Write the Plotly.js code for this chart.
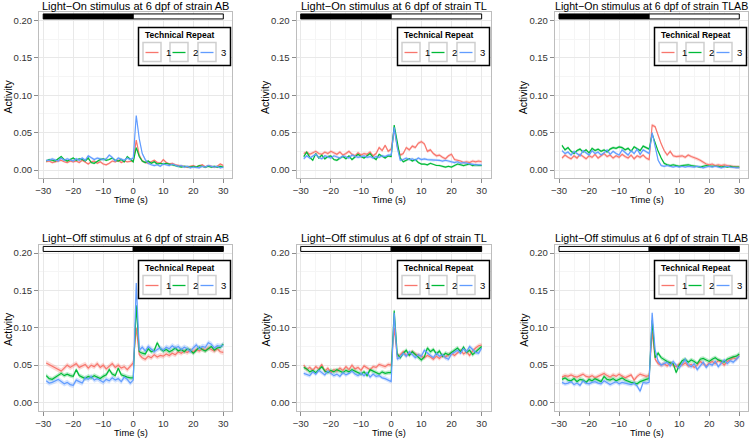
<!DOCTYPE html>
<html><head><meta charset="utf-8">
<script src="https://cdn.plot.ly/plotly-3.0.1.min.js"></script>
<style>html,body{margin:0;padding:0;background:#fff}#chart{width:750px;height:439px}</style>
</head><body><div id="chart"></div>
<script>
// ---------------- data ----------------
const time = [-29,-28,-27,-26,-25,-24,-23,-22,-21,-20,-19,-18,-17,-16,-15,-14,-13,-12,-11,-10,-9,-8,-7,-6,-5,-4,-3,-2,-1,0,1,2,3,4,5,6,7,8,9,10,11,12,13,14,15,16,17,18,19,20,21,22,23,24,25,26,27,28,29,30];
const repeatNames = ['1','2','3'];
const panelTitles = [
  'Light\u2212On stimulus at 6 dpf of strain AB',
  'Light\u2212On stimulus at 6 dpf of strain TL',
  'Light\u2212On stimulus at 6 dpf of strain TLAB',
  'Light\u2212Off stimulus at 6 dpf of strain AB',
  'Light\u2212Off stimulus at 6 dpf of strain TL',
  'Light\u2212Off stimulus at 6 dpf of strain TLAB'
];
// stimulus bar: dark part before 0 for Light-On, after 0 for Light-Off
const stimulusDarkBefore = [true, true, true, false, false, false];
const stimulusBar = {start: -30, switchAt: 0, end: 30, low: 0.2022, high: 0.2089};

// Light-On AB
const onAB1 = [0.011,0.012,0.010,0.011,0.012,0.013,0.011,0.010,0.012,0.011, 0.012,0.010,0.013,0.011,0.008,0.011,0.012,0.009,0.011,0.008, 0.007,0.009,0.012,0.011,0.013,0.010,0.012,0.011,0.012, 0.012, 0.040,0.020,0.012,0.010,0.009,0.011,0.013,0.010,0.009,0.014, 0.010,0.008,0.009,0.007,0.006,0.006,0.005,0.004,0.005,0.006, 0.004,0.005,0.007,0.004,0.006,0.005,0.004,0.005,0.008,0.006];
const onAB2 = [0.012,0.014,0.013,0.012,0.015,0.018,0.014,0.012,0.014,0.016, 0.013,0.015,0.014,0.012,0.016,0.010,0.009,0.012,0.014,0.015, 0.013,0.014,0.016,0.013,0.012,0.014,0.011,0.018,0.015, 0.011, 0.030,0.018,0.012,0.010,0.012,0.009,0.011,0.008,0.009,0.008, 0.009,0.008,0.007,0.006,0.005,0.004,0.005,0.004,0.004,0.005, 0.004,0.006,0.005,0.004,0.005,0.004,0.005,0.004,0.005,0.004];
const onAB3 = [0.013,0.013,0.015,0.014,0.012,0.016,0.013,0.015,0.014,0.012, 0.015,0.013,0.016,0.013,0.019,0.016,0.014,0.016,0.015,0.014, 0.015,0.020,0.017,0.012,0.016,0.014,0.013,0.016,0.014, 0.016, 0.073,0.042,0.022,0.014,0.009,0.007,0.006,0.007,0.005,0.008, 0.007,0.006,0.008,0.006,0.005,0.006,0.004,0.005,0.003,0.004, 0.004,0.003,0.005,0.004,0.006,0.005,0.004,0.005,0.003,0.004];
// Light-On TL
const onTL1 = [0.022,0.024,0.021,0.023,0.025,0.022,0.021,0.024,0.022,0.025, 0.023,0.021,0.024,0.020,0.022,0.025,0.021,0.019,0.023,0.020, 0.022,0.021,0.024,0.019,0.022,0.030,0.026,0.033,0.025, 0.028, 0.055,0.032,0.020,0.022,0.030,0.027,0.032,0.030,0.036,0.038, 0.035,0.025,0.027,0.022,0.019,0.020,0.017,0.015,0.019,0.021, 0.014,0.013,0.012,0.010,0.011,0.010,0.012,0.011,0.012,0.011];
const onTL2 = [0.018,0.024,0.017,0.013,0.022,0.016,0.020,0.015,0.018,0.019, 0.014,0.013,0.016,0.018,0.015,0.019,0.014,0.017,0.021,0.018, 0.016,0.019,0.022,0.017,0.014,0.021,0.018,0.016,0.019, 0.018, 0.060,0.038,0.016,0.011,0.013,0.015,0.012,0.014,0.010,0.008, 0.008,0.007,0.009,0.007,0.006,0.006,0.005,0.004,0.005,0.004, 0.006,0.008,0.007,0.006,0.007,0.008,0.006,0.007,0.006,0.006];
const onTL3 = [0.015,0.019,0.016,0.018,0.021,0.017,0.015,0.019,0.018,0.016, 0.019,0.017,0.016,0.019,0.018,0.016,0.020,0.018,0.017,0.018, 0.019,0.017,0.018,0.016,0.018,0.017,0.019,0.018,0.020, 0.020, 0.057,0.030,0.013,0.014,0.016,0.014,0.015,0.013,0.016,0.014, 0.015,0.014,0.014,0.013,0.014,0.013,0.012,0.013,0.012,0.011, 0.010,0.011,0.009,0.010,0.009,0.008,0.008,0.007,0.007,0.007];
// Light-On TLAB
const onTLAB1 = [0.016,0.020,0.017,0.015,0.019,0.016,0.021,0.018,0.015,0.019, 0.017,0.021,0.016,0.019,0.022,0.018,0.020,0.016,0.019,0.017, 0.021,0.018,0.016,0.020,0.015,0.019,0.017,0.020,0.016, 0.014, 0.060,0.058,0.046,0.035,0.026,0.020,0.025,0.019,0.018,0.018, 0.019,0.017,0.020,0.018,0.017,0.015,0.013,0.010,0.008,0.007, 0.008,0.006,0.007,0.006,0.007,0.006,0.005,0.005,0.004,0.004];
const onTLAB2 = [0.033,0.027,0.030,0.025,0.022,0.026,0.028,0.024,0.027,0.023, 0.029,0.026,0.028,0.025,0.027,0.024,0.028,0.030,0.029,0.031, 0.030,0.027,0.029,0.025,0.031,0.028,0.026,0.032,0.030, 0.028, 0.048,0.036,0.025,0.016,0.009,0.007,0.006,0.007,0.006,0.005, 0.006,0.007,0.007,0.006,0.005,0.005,0.004,0.005,0.006,0.005, 0.005,0.006,0.005,0.004,0.005,0.004,0.005,0.004,0.004,0.004];
const onTLAB3 = [0.026,0.022,0.024,0.020,0.025,0.022,0.019,0.026,0.023,0.020, 0.026,0.022,0.024,0.020,0.023,0.027,0.021,0.025,0.022,0.020, 0.027,0.023,0.020,0.026,0.022,0.028,0.021,0.027,0.024, 0.022, 0.050,0.030,0.013,0.006,0.005,0.006,0.005,0.004,0.005,0.004, 0.005,0.004,0.005,0.004,0.004,0.005,0.004,0.003,0.004,0.005, 0.004,0.005,0.004,0.003,0.004,0.005,0.004,0.003,0.003,0.003];
// Light-Off AB
const offAB1 = [0.053,0.051,0.048,0.046,0.044,0.042,0.046,0.050,0.047,0.049, 0.052,0.047,0.049,0.051,0.046,0.050,0.048,0.052,0.047,0.050, 0.045,0.049,0.052,0.047,0.050,0.046,0.048,0.044,0.049, 0.053, 0.100,0.064,0.060,0.058,0.062,0.060,0.064,0.061,0.063,0.062, 0.065,0.063,0.066,0.064,0.068,0.066,0.069,0.067,0.070,0.068, 0.071,0.069,0.072,0.070,0.073,0.071,0.069,0.072,0.068,0.067];
const offAB2 = [0.036,0.032,0.031,0.034,0.037,0.039,0.036,0.038,0.036,0.035, 0.044,0.036,0.034,0.032,0.035,0.033,0.036,0.034,0.032,0.035, 0.037,0.044,0.038,0.036,0.046,0.037,0.035,0.034,0.033, 0.033, 0.130,0.068,0.066,0.065,0.072,0.068,0.070,0.080,0.072,0.069, 0.071,0.068,0.070,0.073,0.069,0.071,0.068,0.072,0.070,0.066, 0.070,0.074,0.071,0.069,0.072,0.075,0.070,0.073,0.074,0.078];
const offAB3 = [0.029,0.026,0.027,0.029,0.031,0.028,0.025,0.027,0.024,0.023, 0.030,0.028,0.026,0.033,0.031,0.035,0.030,0.032,0.029,0.027, 0.031,0.029,0.033,0.030,0.032,0.028,0.034,0.031,0.026, 0.030, 0.160,0.070,0.074,0.069,0.075,0.072,0.068,0.071,0.073,0.070, 0.074,0.072,0.076,0.073,0.075,0.071,0.074,0.072,0.068,0.073, 0.077,0.072,0.075,0.074,0.080,0.078,0.073,0.076,0.075,0.077];
// Light-Off TL
const offTL1 = [0.050,0.044,0.047,0.043,0.048,0.045,0.051,0.042,0.046,0.040, 0.044,0.042,0.046,0.043,0.048,0.044,0.050,0.045,0.047,0.043, 0.049,0.046,0.044,0.048,0.047,0.051,0.049,0.048,0.051, 0.050, 0.100,0.062,0.064,0.068,0.063,0.066,0.068,0.065,0.064,0.062, 0.060,0.063,0.061,0.058,0.062,0.059,0.063,0.061,0.064,0.066, 0.063,0.067,0.070,0.065,0.068,0.063,0.069,0.073,0.076,0.077];
const offTL2 = [0.047,0.045,0.041,0.043,0.040,0.044,0.048,0.042,0.040,0.043, 0.041,0.044,0.042,0.040,0.043,0.041,0.044,0.042,0.040,0.038, 0.041,0.036,0.044,0.042,0.040,0.038,0.041,0.039,0.040, 0.040, 0.123,0.065,0.060,0.066,0.070,0.063,0.068,0.064,0.060,0.057, 0.061,0.073,0.068,0.071,0.065,0.069,0.062,0.066,0.064,0.067, 0.070,0.073,0.068,0.074,0.067,0.070,0.064,0.068,0.072,0.075];
const offTL3 = [0.039,0.037,0.036,0.041,0.038,0.043,0.040,0.037,0.042,0.039, 0.036,0.038,0.035,0.040,0.037,0.039,0.042,0.038,0.036,0.039, 0.036,0.040,0.034,0.038,0.035,0.036,0.033,0.032,0.030, 0.028, 0.120,0.058,0.061,0.066,0.062,0.068,0.064,0.060,0.064,0.062, 0.070,0.066,0.063,0.060,0.066,0.062,0.064,0.060,0.058,0.065, 0.068,0.070,0.066,0.072,0.068,0.075,0.071,0.067,0.066,0.073];
// Light-Off TLAB
const offTLAB1 = [0.034,0.036,0.035,0.037,0.035,0.034,0.036,0.038,0.035,0.034, 0.036,0.033,0.035,0.037,0.039,0.036,0.034,0.037,0.035,0.038, 0.036,0.033,0.035,0.037,0.030,0.035,0.038,0.036,0.035, 0.036, 0.095,0.058,0.052,0.050,0.052,0.049,0.053,0.050,0.048,0.052, 0.050,0.053,0.049,0.051,0.047,0.050,0.055,0.052,0.049,0.053, 0.055,0.052,0.056,0.054,0.050,0.055,0.058,0.060,0.058,0.063];
const offTLAB2 = [0.031,0.033,0.030,0.029,0.032,0.028,0.031,0.030,0.027,0.031, 0.029,0.032,0.030,0.028,0.035,0.031,0.030,0.032,0.029,0.031, 0.033,0.030,0.028,0.027,0.026,0.025,0.028,0.030,0.031, 0.032, 0.110,0.060,0.066,0.060,0.057,0.055,0.053,0.052,0.040,0.050, 0.056,0.058,0.054,0.057,0.055,0.052,0.058,0.059,0.057,0.055, 0.058,0.060,0.057,0.056,0.054,0.058,0.060,0.061,0.062,0.065];
const offTLAB3 = [0.027,0.025,0.026,0.028,0.024,0.026,0.023,0.029,0.026,0.025, 0.027,0.028,0.026,0.025,0.029,0.027,0.024,0.026,0.028,0.025, 0.027,0.026,0.025,0.024,0.026,0.022,0.015,0.027,0.026, 0.027, 0.120,0.070,0.055,0.050,0.052,0.054,0.049,0.055,0.050,0.046, 0.052,0.058,0.050,0.048,0.052,0.044,0.049,0.054,0.047,0.052, 0.050,0.055,0.048,0.053,0.057,0.052,0.056,0.054,0.058,0.062];

// ribbon half-widths (standard error) per panel, per repeat
const seOnAB = [0.0015, 0.0015, 0.0018];
const seOnTL = [0.0022, 0.0015, 0.0018];
const seOnTLAB = [0.0022, 0.0018, 0.0018];
const seOffAB = [0.0035, 0.0030, 0.0035];
const seOffTL = [0.0030, 0.0030, 0.0030];
const seOffTLAB = [0.0030, 0.0030, 0.0030];

const panelSeries = [
  [onAB1, onAB2, onAB3], [onTL1, onTL2, onTL3], [onTLAB1, onTLAB2, onTLAB3],
  [offAB1, offAB2, offAB3], [offTL1, offTL2, offTL3], [offTLAB1, offTLAB2, offTLAB3]
];
const panelSE = [seOnAB, seOnTL, seOnTLAB, seOffAB, seOffTL, seOffTLAB];

// ---------------- style ----------------
const W = 750, H = 439;
const lineColors = ['#F8766D', '#00BA38', '#619CFF'];
const ribbonColors = ['rgba(248,118,109,0.28)', 'rgba(0,186,56,0.28)', 'rgba(97,156,255,0.28)'];
const FONT = 'Liberation Sans, Arial, Helvetica, sans-serif';
const colLeft = [39, 296.5, 554.8], colRight = [232.3, 490.7, 748.3];
const rowTop = [12, 244.5], rowBottom = [178, 410.5];
const px = v => v / W, py = v => 1 - v / H;

const traces = [];
const layout = {
  width: W, height: H, margin: {l: 0, r: 0, t: 0, b: 0},
  paper_bgcolor: '#fff', plot_bgcolor: '#fff', showlegend: false,
  font: {family: FONT, color: '#222'},
  annotations: [], shapes: []
};

for (let p = 0; p < 6; p++) {
  const col = p % 3, row = Math.floor(p / 3);
  const n = p === 0 ? '' : String(p + 1);
  const L = colLeft[col], R = colRight[col], T = rowTop[row], B = rowBottom[row];
  const xa = 'x' + n, ya = 'y' + n;

  layout['xaxis' + n] = {
    domain: [px(L), px(R)], anchor: ya, range: [-31.4, 33],
    dtick: 10, tick0: 0, ticks: 'outside', ticklen: 4, tickcolor: '#8c8c8c', tickwidth: 1,
    showline: true, mirror: true, linecolor: '#bdbdbd', linewidth: 1,
    showgrid: true, gridcolor: '#e8e8e8', gridwidth: 1, zeroline: false,
    minor: {dtick: 5, tick0: 0, showgrid: true, gridcolor: '#f5f5f5', gridwidth: 1},
    tickfont: {size: 9.5, color: '#333', family: FONT}, fixedrange: true
  };
  layout['yaxis' + n] = {
    domain: [py(B), py(T)], anchor: xa, range: [-0.0107, 0.2115],
    dtick: 0.05, tick0: 0, tickformat: '.2f', ticks: 'outside', ticklen: 4, tickcolor: '#8c8c8c', tickwidth: 1,
    showline: true, mirror: true, linecolor: '#bdbdbd', linewidth: 1,
    showgrid: true, gridcolor: '#e8e8e8', gridwidth: 1, zeroline: false,
    minor: {dtick: 0.025, tick0: 0, showgrid: true, gridcolor: '#f5f5f5', gridwidth: 1},
    tickfont: {size: 9.5, color: '#333', family: FONT}, fixedrange: true
  };

  const series = panelSeries[p], se = panelSE[p];
  // ribbons
  for (let s = 0; s < 3; s++) {
    const upper = series[s].map(v => v + se[s]);
    const lower = series[s].map(v => Math.max(0, v - se[s]));
    traces.push({
      type: 'scatter', mode: 'lines', xaxis: xa, yaxis: ya,
      x: time.concat(time.slice().reverse()),
      y: upper.concat(lower.slice().reverse()),
      fill: 'toself', fillcolor: ribbonColors[s], line: {width: 0},
      hoverinfo: 'skip', showlegend: false, name: repeatNames[s]
    });
  }
  // lines
  for (let s = 0; s < 3; s++) {
    traces.push({
      type: 'scatter', mode: 'lines', xaxis: xa, yaxis: ya,
      x: time, y: series[s], name: repeatNames[s],
      line: {color: lineColors[s], width: 1.2}, showlegend: false
    });
  }

  // stimulus bar
  const darkFirst = stimulusDarkBefore[p];
  layout.shapes.push({type: 'rect', xref: xa, yref: ya, x0: stimulusBar.start, x1: stimulusBar.switchAt,
    y0: stimulusBar.low, y1: stimulusBar.high, fillcolor: darkFirst ? '#000' : '#fff', line: {color: '#000', width: 1}});
  layout.shapes.push({type: 'rect', xref: xa, yref: ya, x0: stimulusBar.switchAt, x1: stimulusBar.end,
    y0: stimulusBar.low, y1: stimulusBar.high, fillcolor: darkFirst ? '#fff' : '#000', line: {color: '#000', width: 1}});

  // panel title (the right-hand column is kept inside the page edge)
  const lastCol = col === 2;
  layout.annotations.push({text: panelTitles[p], xref: 'paper', yref: 'paper',
    x: lastCol ? px(W - 0.5) : px((L + R) / 2), y: py(T - 6.2),
    xanchor: lastCol ? 'right' : 'center', yanchor: 'middle', showarrow: false,
    font: {size: lastCol ? 10.6 : 11, color: '#000', family: FONT}});
  // axis titles
  layout.annotations.push({text: 'Time (s)', xref: 'paper', yref: 'paper',
    x: px((L + R) / 2 - 4.5), y: py(B + 22), xanchor: 'center', yanchor: 'middle', showarrow: false,
    font: {size: 9.3, color: '#000', family: FONT}});
  layout.annotations.push({text: 'Activity', xref: 'paper', yref: 'paper', textangle: -90,
    x: px(L - 31.5), y: py((T + B) / 2 + 2), xanchor: 'center', yanchor: 'middle', showarrow: false,
    font: {size: 10.5, color: '#000', family: FONT}});

  // legend box (ggplot-style, horizontal keys)
  const lx0 = Math.round(R - 94) + 0.5, lx1 = lx0 + 92, ly0 = Math.round(T + 15) + 0.5, ly1 = ly0 + 38;
  layout.shapes.push({type: 'rect', xref: 'paper', yref: 'paper', x0: px(lx0), x1: px(lx1), y0: py(ly1), y1: py(ly0),
    fillcolor: '#fff', line: {color: '#000', width: 1.5}, layer: 'above'});
  layout.annotations.push({text: '<b>Technical Repeat</b>', xref: 'paper', yref: 'paper',
    x: px(lx0 + 4.5), y: py(ly0 + 7.5), xanchor: 'left', yanchor: 'middle', showarrow: false,
    font: {size: 8.5, color: '#000', family: FONT}});
  for (let s = 0; s < 3; s++) {
    const kx0 = Math.round(lx0 + 4 + s * 27.8), kx1 = kx0 + 18, ky0 = ly0 + 15, ky1 = ly0 + 34;
    const kyMid = Math.round((ky0 + ky1) / 2) + 0.5;
    layout.shapes.push({type: 'rect', xref: 'paper', yref: 'paper', x0: px(kx0), x1: px(kx1), y0: py(ky1), y1: py(ky0),
      fillcolor: '#fff', line: {color: '#cfcfcf', width: 1.5}, layer: 'above'});
    layout.shapes.push({type: 'line', xref: 'paper', yref: 'paper', x0: px(kx0 + 2.5), x1: px(kx1 - 2.5),
      y0: py(kyMid), y1: py(kyMid), line: {color: lineColors[s], width: 1.3}, layer: 'above'});
    layout.annotations.push({text: repeatNames[s], xref: 'paper', yref: 'paper',
      x: px(kx1 + 2.5), y: py(kyMid), xanchor: 'left', yanchor: 'middle', showarrow: false,
      font: {size: 9.5, color: '#000', family: FONT}});
  }
}

Plotly.newPlot('chart', traces, layout, {staticPlot: true, displayModeBar: false});
</script>
</body></html>
